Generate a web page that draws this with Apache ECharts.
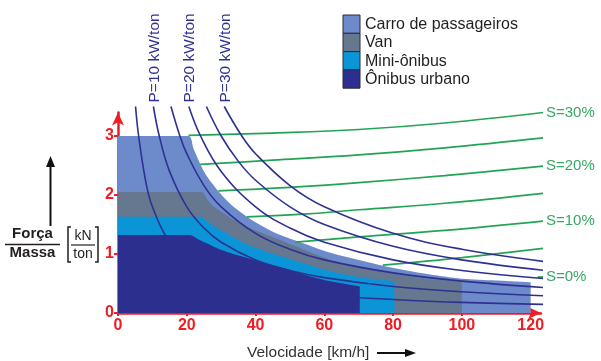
<!DOCTYPE html>
<html>
<head>
<meta charset="utf-8">
<script src="https://cdn.jsdelivr.net/npm/echarts/dist/echarts.min.js"></script>
<style>
  html, body { margin: 0; padding: 0; background: #fff; }
  #chart { width: 601px; height: 361px; }
</style>
</head>
<body>
<div id="chart"></div>
<script>
const FONT = "'Liberation Sans', Arial, sans-serif";
const RED = '#EE1D23';
const NAVY = '#2E3192';
const GREEN = '#22A455';

// legend / vehicle regions (velocity km/h, force/mass kN/ton)
const vehicleNames = ['Carro de passageiros', 'Van', 'Mini-ônibus', 'Ônibus urbano'];
const vehicleColors = ['#6D8BCB', '#66788F', '#0B95D7', '#2C2F8E'];
const carroEdge = [[0, 3], [20.5, 3], [22, 2.78], [25.3, 2.37], [29.7, 2.03], [33, 1.83], [37.5, 1.63], [42, 1.47], [47.2, 1.32], [53, 1.2], [61.8, 1.02], [70, 0.9], [78, 0.79], [90, 0.66], [100, 0.58], [110, 0.55], [120, 0.52]];
const vanEdge = [[0, 2.05], [24.3, 2.05], [26, 1.92], [28, 1.8], [31, 1.68], [34, 1.57], [38.4, 1.44], [47, 1.24], [53, 1.1], [61.8, 0.9], [70, 0.79], [80, 0.67], [90, 0.58], [100, 0.53]];
const miniEdge = [[0, 1.63], [24, 1.63], [26, 1.55], [28, 1.47], [31, 1.37], [34, 1.27], [38.4, 1.14], [47, 0.97], [53, 0.86], [61.8, 0.71], [70, 0.61], [80.4, 0.54]];
const onibusEdge = [[0, 1.32], [21, 1.32], [23, 1.26], [25.5, 1.19], [28, 1.12], [31, 1.05], [34, 0.99], [38.4, 0.92], [47, 0.78], [53, 0.67], [60, 0.56], [70.3, 0.45]];

// constant power curves
const powerLabels = ['P=5', 'P=10 kW/ton', 'P=15', 'P=20 kW/ton', 'P=25', 'P=30 kW/ton'];
const powerShowLabel = [false, true, false, true, false, true];
const powerCurves = [
  [[5.1, 3.5], [6, 3.0], [8, 2.25], [10, 1.8], [15, 1.2], [20, 0.9], [30, 0.6], [40, 0.45], [60, 0.3], [80, 0.23], [100, 0.18], [124.4, 0.145]],
  [[10.3, 3.5], [12, 3.0], [15, 2.4], [20, 1.8], [25, 1.44], [30, 1.2], [40, 0.9], [50, 0.72], [60, 0.6], [80, 0.45], [100, 0.36], [124.4, 0.29]],
  [[15.4, 3.5], [18, 3.0], [20, 2.7], [25, 2.16], [30, 1.8], [40, 1.35], [50, 1.08], [60, 0.9], [80, 0.68], [100, 0.54], [124.4, 0.43]],
  [[20.6, 3.5], [24, 3.0], [30, 2.4], [40, 1.8], [50, 1.44], [60, 1.2], [80, 0.9], [100, 0.72], [124.4, 0.58]],
  [[25.7, 3.5], [30, 3.0], [35, 2.57], [40, 2.25], [50, 1.8], [60, 1.5], [80, 1.13], [100, 0.9], [124.4, 0.72]],
  [[30.9, 3.5], [36, 3.0], [40, 2.7], [50, 2.16], [60, 1.8], [80, 1.35], [100, 1.08], [124.4, 0.87]]
];

// grade lines
const gradeLabels = ['S=30%', '', 'S=20%', '', 'S=10%', '', 'S=0%'];
const gradeLines = [
  [[20.5, 3.01], [45, 3.05], [70, 3.11], [95, 3.22], [123.8, 3.40]],
  [[23.9, 2.52], [45, 2.59], [70, 2.68], [95, 2.80], [123.8, 2.97]],
  [[29.2, 2.07], [50, 2.13], [70, 2.21], [95, 2.33], [123.8, 2.49]],
  [[37.5, 1.63], [55, 1.68], [70, 1.75], [95, 1.86], [123.8, 2.03]],
  [[51.6, 1.20], [70, 1.29], [95, 1.40], [123.8, 1.56]],
  [[77, 0.81], [100, 0.94], [124.4, 1.10]],
  [[122, 0.61], [124.4, 0.61]]
];

const chart = echarts.init(document.getElementById('chart'));

const areaData = [carroEdge, vanEdge, miniEdge, onibusEdge];
const series = [];

areaData.forEach((data, i) => {
  series.push({
    name: vehicleNames[i],
    type: 'line',
    data: data,
    smooth: 0.3,
    symbol: 'none',
    silent: true,
    lineStyle: { width: 0 },
    itemStyle: { color: vehicleColors[i] },
    areaStyle: { color: vehicleColors[i], opacity: 1 },
    z: 1
  });
});

powerCurves.forEach((data, i) => {
  series.push({
    name: powerLabels[i],
    type: 'line',
    data: data,
    smooth: 0.4,
    symbol: 'none',
    silent: true,
    clip: false,
    lineStyle: { color: NAVY, width: 1.6 },
    z: 3
  });
});

gradeLines.forEach((data, i) => {
  series.push({
    name: 'grade' + i,
    type: 'line',
    data: data,
    smooth: 0.4,
    symbol: 'none',
    silent: true,
    clip: false,
    lineStyle: { color: GREEN, width: 1.7 },
    endLabel: {
      show: gradeLabels[i] !== '',
      formatter: gradeLabels[i],
      color: '#35A862',
      fontSize: 15,
      fontFamily: FONT,
      distance: 3
    },
    z: 2
  });
});

// legend drawn as boxes + text
const legendGraphics = [];
vehicleNames.forEach((name, i) => {
  legendGraphics.push({
    type: 'rect',
    shape: { x: 343, y: 15 + i * 18.3, width: 17, height: 18.3 },
    style: { fill: vehicleColors[i], stroke: '#2A2B3A', lineWidth: 1 }
  });
  legendGraphics.push({
    type: 'text',
    x: 365, y: 24.5 + i * 18.3,
    style: { text: name, fill: '#231F20', font: '16px ' + FONT, textVerticalAlign: 'middle' }
  });
});

const titleGraphics = [
  // y title arrow
  { type: 'line', shape: { x1: 50.5, y1: 226, x2: 50.5, y2: 165 }, style: { stroke: '#111', lineWidth: 2 } },
  { type: 'polygon', shape: { points: [[50.5, 156], [46, 167], [55, 167]] }, style: { fill: '#111' } },
  { type: 'text', x: 32.5, y: 234, style: { text: 'Força', fill: '#231F20', font: 'bold 15px ' + FONT, textAlign: 'center', textVerticalAlign: 'middle' } },
  { type: 'line', shape: { x1: 5, y1: 244.5, x2: 60, y2: 244.5 }, style: { stroke: '#231F20', lineWidth: 1.5 } },
  { type: 'text', x: 32.5, y: 253, style: { text: 'Massa', fill: '#231F20', font: 'bold 15px ' + FONT, textAlign: 'center', textVerticalAlign: 'middle' } },
  { type: 'polyline', shape: { points: [[71, 227], [68, 227], [68, 262], [71, 262]] }, style: { stroke: '#231F20', lineWidth: 1.5, fill: null } },
  { type: 'polyline', shape: { points: [[95, 227], [98, 227], [98, 262], [95, 262]] }, style: { stroke: '#231F20', lineWidth: 1.5, fill: null } },
  { type: 'text', x: 83, y: 236, style: { text: 'kN', fill: '#231F20', font: '14px ' + FONT, textAlign: 'center', textVerticalAlign: 'middle' } },
  { type: 'line', shape: { x1: 71, y1: 245, x2: 95, y2: 245 }, style: { stroke: '#231F20', lineWidth: 1.2 } },
  { type: 'text', x: 83, y: 254, style: { text: 'ton', fill: '#231F20', font: '14px ' + FONT, textAlign: 'center', textVerticalAlign: 'middle' } },
  // x title
  { type: 'text', x: 247, y: 353, style: { text: 'Velocidade [km/h]', fill: '#333', font: '15.5px ' + FONT, textVerticalAlign: 'middle' } },
  { type: 'line', shape: { x1: 377, y1: 353, x2: 406, y2: 353 }, style: { stroke: '#111', lineWidth: 2 } },
  { type: 'polygon', shape: { points: [[416, 353], [405, 349], [405, 357]] }, style: { fill: '#111' } }
];

const option = {
  animation: false,
  backgroundColor: '#fff',
  grid: { left: 118, right: 60, top: 112.4, bottom: 48 },
  xAxis: {
    type: 'value',
    min: 0,
    max: 123,
    interval: 20,
    axisLine: { show: true, lineStyle: { color: RED, width: 2.5 }, symbol: ['none', 'arrow'], symbolSize: [9, 13] },
    axisTick: { show: true, length: 3, lineStyle: { color: RED, width: 2 } },
    axisLabel: { color: RED, fontWeight: 'bold', fontSize: 16, fontFamily: FONT, margin: 5, showMaxLabel: false },
    splitLine: { show: false }
  },
  yAxis: {
    type: 'value',
    min: 0,
    max: 3.4,
    interval: 1,
    axisLine: { show: true, lineStyle: { color: RED, width: 2.5 }, symbol: ['none', 'arrow'], symbolSize: [9, 13] },
    axisTick: { show: true, length: 4, lineStyle: { color: RED, width: 2 } },
    axisLabel: { color: RED, fontWeight: 'bold', fontSize: 16, fontFamily: FONT, margin: 4, showMaxLabel: false },
    splitLine: { show: false }
  },
  series: series
};

chart.setOption(option);

// rotated labels on top of the power curves, placed via the axes
const powerTextGraphics = [];
powerCurves.forEach((data, i) => {
  if (!powerShowLabel[i]) return;
  const p = chart.convertToPixel({ gridIndex: 0 }, data[0]);
  powerTextGraphics.push({
    type: 'text',
    x: p[0] + 1,
    y: p[1] - 4,
    rotation: Math.PI / 2,
    style: { text: powerLabels[i], fill: NAVY, font: '15.5px ' + FONT, textAlign: 'left', textVerticalAlign: 'middle' }
  });
});

chart.setOption({ graphic: legendGraphics.concat(titleGraphics, powerTextGraphics) });
</script>
</body>
</html>
